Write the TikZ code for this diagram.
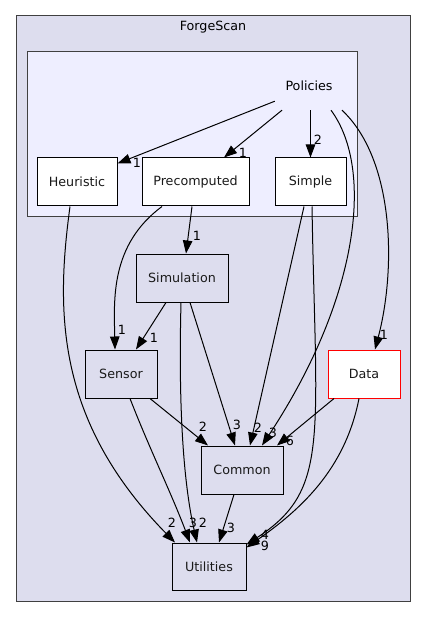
\documentclass[tikz,border=0pt]{standalone}
\usepackage{fontspec}
\setmainfont{DejaVu Sans}
\usetikzlibrary{arrows.meta}
\definecolor{outerfill}{HTML}{DDDDEE}
\definecolor{innerfill}{HTML}{EEEEFF}
\definecolor{framegray}{HTML}{404040}
\definecolor{textgray}{HTML}{1A1A1A}
\newcommand{\dirfont}{\fontsize{12.7}{15}\selectfont}
\tikzset{
  dirbox/.style   = {draw=black,fill=outerfill,minimum height=48pt,inner sep=0pt,
                     font=\dirfont,text=textgray,line width=1pt},
  leafbox/.style  = {dirbox,fill=white},
  cluster/.style  = {draw=framegray,line width=1pt},
  dep/.style      = {-{Triangle[length=13pt,width=9.5pt]},line width=1pt},
  elabel/.style   = {font=\dirfont,inner sep=0pt},
}

\begin{document}
\begin{tikzpicture}[x=1pt,y=-1pt]
  \useasboundingbox (0,0) rectangle (427,617);
  \fill[white] (0,0) rectangle (427,617);
  % clusters
  \draw[cluster,fill=outerfill] (16,16) rectangle (410,601);
  \node[font=\dirfont] (forgescan) at (213,27) {ForgeScan};
  \draw[cluster,fill=innerfill] (27,52) rectangle (357,217);
  \node[font=\dirfont,minimum width=70pt,minimum height=48pt,inner sep=0pt]
    (policies) at (309,86) {Policies};
  % directories
  \node[leafbox,minimum width=80pt]  (heuristic)   at (77,182)    {Heuristic};
  \node[leafbox,minimum width=107pt] (precomputed) at (195.5,182) {Precomputed};
  \node[leafbox,minimum width=71pt]  (simple)      at (310.5,182) {Simple};
  \node[dirbox,minimum width=92pt]   (simulation)  at (182,278)   {Simulation};
  \node[dirbox,minimum width=72pt]   (sensor)      at (121,374)   {Sensor};
  \node[leafbox,draw=red,minimum width=72pt] (data) at (364,374)  {Data};
  \node[dirbox,minimum width=82pt]   (common)      at (242,470)   {Common};
  \node[dirbox,minimum width=74pt,minimum height=47pt] (utilities) at (209,566.5) {Utilities};
  % dependencies
  \draw[dep] ([xshift=1pt,yshift=9pt]policies.south west) -- ([yshift=-6pt]heuristic.north east)
    node[elabel] (l-ph) at (137,163) {1};
  \draw[dep] ([xshift=-27pt]policies.south) -- ([xshift=28.5pt]precomputed.north)
    node[elabel] (l-pp) at (243,153) {1};
  \draw[dep] ([xshift=1.5pt]policies.south) -- (simple.north)
    node[elabel] (l-ps) at (318,140) {2};
  \draw[dep] ([xshift=22pt]policies.south) .. controls (375,170) and (358,300) .. ([xshift=20pt]common.north)
    node[elabel] (l-pc) at (273,433) {3};
  \draw[dep] ([xshift=33pt]policies.south) .. controls (395,160) and (396,270) .. ([xshift=11pt]data.north)
    node[elabel] (l-pd) at (384,335) {1};
  \draw[dep] ([xshift=-7pt]heuristic.south) .. controls (56,310) and (55,420) .. ([xshift=-34pt]utilities.north)
    node[elabel] (l-hu) at (172,523) {2};
  \draw[dep] ([xshift=-33.5pt]precomputed.south) .. controls (110,245) and (114,300) .. ([xshift=-6pt]sensor.north)
    node[elabel] (l-pse) at (122,330) {1};
  \draw[dep] ([xshift=-3.5pt]precomputed.south) -- ([xshift=4pt]simulation.north)
    node[elabel] (l-psi) at (197,236) {1};
  \draw[dep] ([xshift=-6.5pt]simple.south) -- ([xshift=8pt]common.north)
    node[elabel] (l-sc) at (258,428) {2};
  \draw[dep] ([xshift=1.5pt]simple.south) .. controls (316,440) and (330,490) .. ([yshift=-2pt]utilities.north east)
    node[elabel] (l-su) at (265,535) {4};
  \draw[dep] ([xshift=-16pt]simulation.south) -- ([xshift=15pt]sensor.north)
    node[elabel] (l-sis) at (154,338) {1};
  \draw[dep] ([xshift=8pt]simulation.south) -- ([xshift=-7pt]common.north)
    node[elabel] (l-sic) at (237,425) {3};
  \draw[dep] ([xshift=-1pt]simulation.south) .. controls (178,420) and (185,490) .. ([xshift=-12pt]utilities.north)
    node[elabel] (l-siu) at (203,523) {2};
  \draw[dep] ([xshift=29pt]sensor.south) -- ([xshift=-34pt]common.north)
    node[elabel] (l-sec) at (203,427) {2};
  \draw[dep] ([xshift=9pt]sensor.south) .. controls (150,450) and (170,490) .. ([xshift=-19pt]utilities.north)
    node[elabel] (l-seu) at (193,523) {3};
  \draw[dep] ([xshift=-8pt]common.south) -- ([xshift=10pt]utilities.north)
    node[elabel] (l-cu) at (231,528) {3};
  \draw[dep] ([xshift=-30pt]data.south) -- ([xshift=35pt]common.north)
    node[elabel] (l-dc) at (290,441) {6};
  \draw[dep] ([xshift=-5pt]data.south) .. controls (345,470) and (300,510) .. ([yshift=-5pt]utilities.north east)
    node[elabel] (l-du) at (265,546) {9};
\end{tikzpicture}
\end{document}
